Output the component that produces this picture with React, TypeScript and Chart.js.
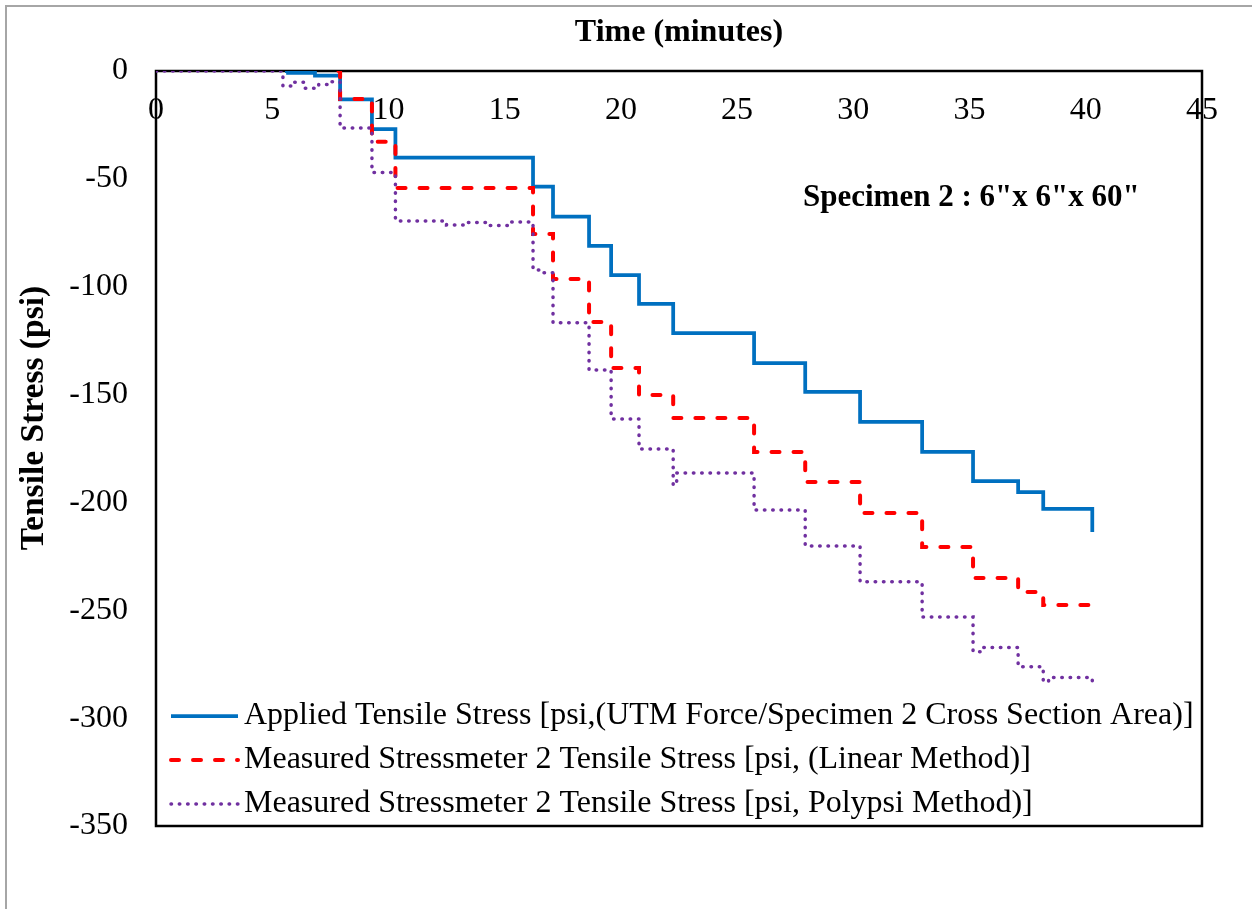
import React, { useEffect, useRef } from 'react';
import { Chart, registerables } from 'chart.js';

Chart.register(...registerables);

// ---- Data ----
const xMin = 0;
const xMax = 45;
const xStep = 5;
const yMin = -350;
const yMax = 0;
const yStep = 50;

const appliedTimes = [5.55, 5.68, 6.84, 7.92, 9.29, 10.3, 16.22, 17.08, 18.63, 19.58, 20.78, 22.25, 25.73, 27.93, 30.29, 32.96, 35.15, 37.09, 38.17, 40.28];
const appliedStress = [0, -0.9, -2.2, -13.1, -26.9, -40.2, -53.6, -67.5, -81.1, -94.6, -108.0, -121.5, -135.4, -148.8, -162.7, -176.6, -190.1, -195.2, -203.0, -213.7];

const linearTimes = [7.85, 7.92, 9.29, 10.3, 16.22, 17.08, 18.63, 19.58, 20.78, 22.25, 25.73, 27.93, 30.29, 32.96, 35.15, 37.09, 38.17, 40.28];
const linearStress = [0, -13.0, -32.8, -54.2, -75.6, -96.4, -116.4, -137.7, -150.2, -160.9, -176.6, -190.5, -204.9, -220.7, -235.0, -241.5, -247.6, -251.3];

const polypsiTimes = [0, 5.46, 5.9, 6.4, 7.0, 7.5, 7.92, 9.29, 10.3, 12.5, 13.3, 14.2, 15.2, 16.22, 16.6, 17.08, 18.63, 19.58, 20.78, 22.25, 22.4, 25.73, 27.93, 30.29, 32.96, 35.15, 35.6, 37.09, 38.17, 38.4, 40.28];
const polypsiStress = [0, -7.0, -5.2, -8.0, -6.3, -5.0, -26.4, -47.1, -69.5, -71.4, -70.2, -71.6, -70.0, -92.3, -93.5, -116.7, -138.6, -161.3, -175.2, -191.9, -186.4, -203.5, -220.2, -236.8, -253.1, -269.2, -267.3, -276.2, -283.1, -281.2, -285.0];

const seriesLabels = [
  'Applied Tensile Stress [psi,(UTM Force/Specimen 2 Cross Section Area)]',
  'Measured Stressmeter 2 Tensile Stress [psi, (Linear Method)]',
  'Measured Stressmeter 2 Tensile Stress [psi, Polypsi Method)]',
];
const xAxisTitle = 'Time (minutes)';
const yAxisTitle = 'Tensile Stress (psi)';
const annotationText = 'Specimen 2 : 6"x 6"x 60"';

const FONT = '"Liberation Serif", "Times New Roman", serif';
const FS = 32;

const toPoints = (xs: number[], ys: number[]) => xs.map((x, i) => ({ x, y: ys[i] }));

const decorPlugin = {
  id: 'decor',
  beforeDraw(chart: any) {
    const { ctx, width, height } = chart;
    ctx.save();
    ctx.fillStyle = '#ffffff';
    ctx.fillRect(0, 0, width, height);
    ctx.strokeStyle = '#A6A6A6';
    ctx.lineWidth = 2;
    ctx.beginPath();
    ctx.moveTo(6, height + 5);
    ctx.lineTo(6, 6);
    ctx.lineTo(width + 5, 6);
    ctx.stroke();
    ctx.restore();
  },
  beforeDatasetsDraw(chart: any) {
    const { ctx, chartArea } = chart;
    ctx.save();
    ctx.strokeStyle = '#000000';
    ctx.lineWidth = 2.5;
    ctx.strokeRect(chartArea.left, chartArea.top, chartArea.right - chartArea.left, chartArea.bottom - chartArea.top);
    ctx.restore();
  },
  afterDraw(chart: any) {
    const { ctx, chartArea } = chart;
    ctx.save();
    ctx.fillStyle = '#000000';
    // x-axis title
    ctx.font = `bold ${FS}px ${FONT}`;
    ctx.textAlign = 'center';
    ctx.textBaseline = 'middle';
    ctx.fillText(xAxisTitle, (chartArea.left + chartArea.right) / 2, 33);
    // y-axis title
    ctx.save();
    ctx.font = `bold 33.5px ${FONT}`;
    ctx.translate(34, 418);
    ctx.rotate(-Math.PI / 2);
    ctx.fillText(yAxisTitle, 0, 0);
    ctx.restore();
    // annotation
    ctx.font = `bold 31px ${FONT}`;
    ctx.textAlign = 'left';
    ctx.fillText(annotationText, 803, 198);
    // legend
    const rows = [716, 760, 804];
    chart.data.datasets.forEach((ds: any, i: number) => {
      const y = rows[i];
      ctx.save();
      ctx.strokeStyle = ds.borderColor;
      ctx.lineWidth = ds.borderWidth;
      ctx.lineCap = ds.borderCapStyle || 'butt';
      ctx.setLineDash(ds.borderDash || []);
      ctx.beginPath();
      ctx.moveTo(171, y);
      ctx.lineTo(238, y);
      ctx.stroke();
      ctx.restore();
      ctx.font = `${FS}px ${FONT}`;
      ctx.textAlign = 'left';
      ctx.textBaseline = 'middle';
      ctx.fillStyle = '#000000';
      ctx.fillText(ds.label, 244, y);
    });
    ctx.restore();
  },
};

export default function App() {
  const canvasRef = useRef<HTMLCanvasElement | null>(null);

  useEffect(() => {
    document.body.style.margin = '0';
    const canvas = canvasRef.current;
    if (!canvas) return;
    const chart = new Chart(canvas, {
      type: 'line',
      data: {
        datasets: [
          {
            label: seriesLabels[0],
            data: toPoints(appliedTimes, appliedStress),
            borderColor: '#0070C0',
            borderWidth: 3.75,
            stepped: 'before',
            pointRadius: 0,
            fill: false,
            borderCapStyle: 'butt',
            order: 2,
          },
          {
            label: seriesLabels[1],
            data: toPoints(linearTimes, linearStress),
            borderColor: '#FF0000',
            borderWidth: 4,
            borderDash: [8, 14],
            borderCapStyle: 'round',
            stepped: 'before',
            pointRadius: 0,
            fill: false,
            order: 1,
          },
          {
            label: seriesLabels[2],
            data: toPoints(polypsiTimes, polypsiStress),
            borderColor: '#7030A0',
            borderWidth: 3.5,
            borderDash: [0.5, 7.8],
            borderCapStyle: 'round',
            stepped: 'before',
            pointRadius: 0,
            fill: false,
            order: 0,
          },
        ],
      } as any,
      options: {
        animation: false,
        responsive: false,
        maintainAspectRatio: false,
        layout: { padding: { left: 0, top: 71, right: 50, bottom: 83 } },
        scales: {
          x: {
            type: 'linear',
            position: { y: 0 } as any,
            min: xMin,
            max: xMax,
            ticks: {
              stepSize: xStep,
              color: '#000000',
              font: { family: FONT, size: FS },
              padding: 12.5,
              maxRotation: 0,
            },
            grid: { display: false },
            border: { display: false },
          },
          y: {
            type: 'linear',
            min: yMin,
            max: yMax,
            ticks: {
              stepSize: yStep,
              color: '#000000',
              font: { family: FONT, size: FS },
              padding: 20,
            },
            grid: { display: false },
            border: { display: false },
            afterFit: (scale: any) => {
              scale.width = 156;
            },
          },
        } as any,
        plugins: {
          legend: { display: false },
          tooltip: { enabled: false },
        },
      },
      plugins: [decorPlugin],
    });
    return () => chart.destroy();
  }, []);

  return (
    <div style={{ width: 1252, height: 909 }}>
      <canvas ref={canvasRef} width={1252} height={909} style={{ display: 'block' }} />
    </div>
  );
}
